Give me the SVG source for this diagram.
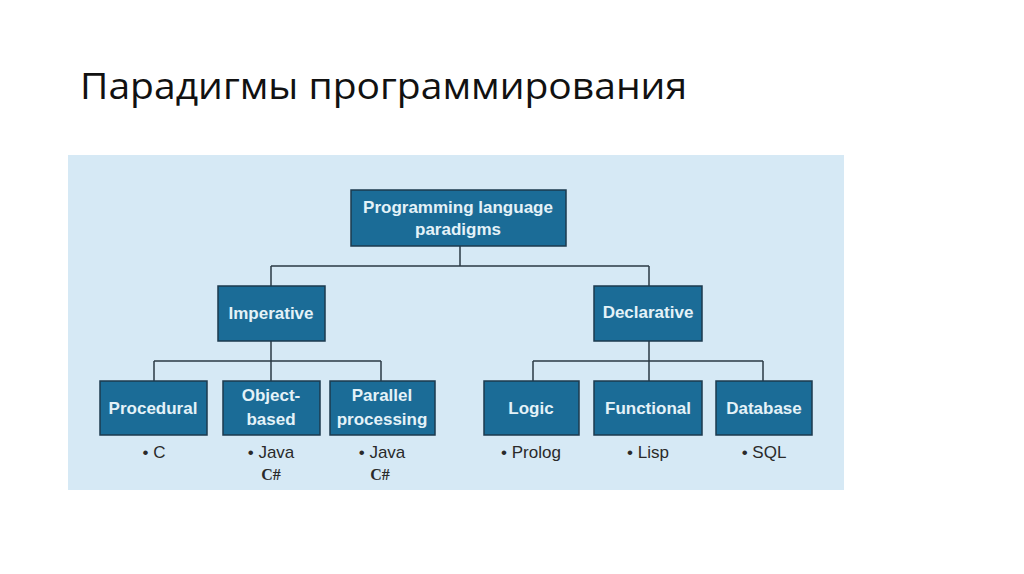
<svg xmlns="http://www.w3.org/2000/svg" width="1024" height="574" viewBox="0 0 1024 574">
<style>
.box{fill:#1b6c97;stroke:#1d3a4e;stroke-width:1.5}
.bt{font-family:"Liberation Sans Narrow","Liberation Sans",sans-serif;font-stretch:condensed;font-weight:bold;font-size:17px;fill:#e4f2f8;text-anchor:middle}
.sub{font-family:"Liberation Sans Narrow","Liberation Sans",sans-serif;font-size:17px;fill:#2a2a2a;text-anchor:middle}
.cs{font-family:"Liberation Serif",serif;font-weight:bold;font-size:16px;fill:#2a2a2a;text-anchor:middle}
.ln{fill:none;stroke:#2b3a44;stroke-width:1.5}
</style>
<rect width="1024" height="574" fill="#fff"/>
<text x="80" y="99" font-family="Open Sans, sans-serif" font-size="36" textLength="607" lengthAdjust="spacingAndGlyphs" fill="#111">Парадигмы программирования</text>
<rect x="68" y="155" width="776" height="335" fill="#d6e9f5"/>
<g id="connectors" class="ln">
<path d="M460 246V266M271 266H649M271 266V286M649 266V286"/>
<path d="M271 341V381M154 361H381M154 361V381M381 361V381"/>
<path d="M649 341V381M533 361H763M533 361V381M763 361V381"/>
</g>
<g id="root"><rect class="box" x="351" y="190" width="215" height="56"/><text class="bt" x="458" y="213">Programming language</text><text class="bt" x="458" y="235">paradigms</text></g>
<g id="imperative"><rect class="box" x="218" y="286" width="107" height="55"/><text class="bt" x="271" y="319">Imperative</text></g>
<g id="declarative"><rect class="box" x="594" y="286" width="108" height="55"/><text class="bt" x="648" y="318">Declarative</text></g>
<g id="procedural"><rect class="box" x="100" y="381" width="107" height="54"/><text class="bt" x="153" y="414">Procedural</text><text class="sub" x="154" y="458">• C</text></g>
<g id="object"><rect class="box" x="223" y="381" width="97" height="54"/><text class="bt" x="271" y="401">Object-</text><text class="bt" x="271" y="425">based</text><text class="sub" x="271" y="458">• Java</text><text class="cs" x="271" y="480">C#</text></g>
<g id="parallel"><rect class="box" x="330" y="381" width="105" height="54"/><text class="bt" x="382" y="401">Parallel</text><text class="bt" x="382" y="425">processing</text><text class="sub" x="382" y="458">• Java</text><text class="cs" x="380" y="480">C#</text></g>
<g id="logic"><rect class="box" x="484" y="381" width="95" height="54"/><text class="bt" x="531" y="414">Logic</text><text class="sub" x="531" y="458">• Prolog</text></g>
<g id="functional"><rect class="box" x="594" y="381" width="108" height="54"/><text class="bt" x="648" y="414">Functional</text><text class="sub" x="648" y="458">• Lisp</text></g>
<g id="database"><rect class="box" x="716" y="381" width="96" height="54"/><text class="bt" x="764" y="414">Database</text><text class="sub" x="764" y="458">• SQL</text></g>
</svg>
